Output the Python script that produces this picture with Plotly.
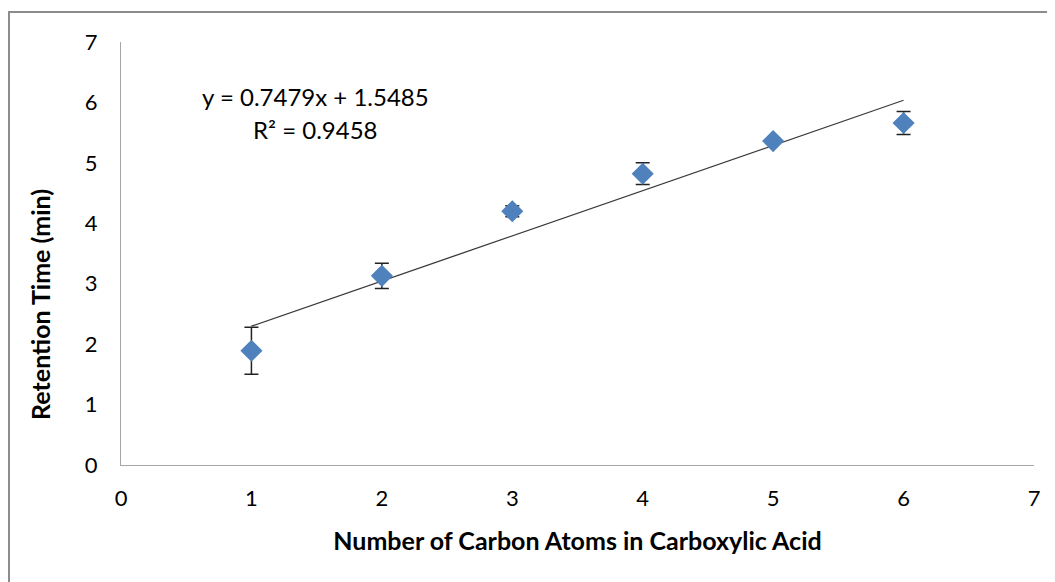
import plotly.graph_objects as go

carbon_atoms = [1, 2, 3, 4, 5, 6]
retention_time = [1.89, 3.13, 4.20, 4.82, 5.36, 5.66]
error_sd = [0.39, 0.21, 0.09, 0.18, 0.05, 0.19]
slope = 0.7479
intercept = 1.5485
trend_x = [1, 6]

x_ticks = [0, 1, 2, 3, 4, 5, 6, 7]
y_ticks = [0, 1, 2, 3, 4, 5, 6, 7]

font_family = "Lato, Open Sans, sans-serif"

fig = go.Figure()
fig.add_trace(go.Scatter(
    x=trend_x, y=[slope * v + intercept for v in trend_x],
    mode="lines", line=dict(color="#3a3a3a", width=1.3),
    showlegend=False, hoverinfo="skip"))
fig.add_trace(go.Scatter(
    x=carbon_atoms, y=retention_time, mode="markers",
    marker=dict(symbol="diamond", size=17, color="#4f81bd"),
    error_y=dict(type="data", array=error_sd, visible=True,
                 color="#222222", thickness=1.5, width=7),
    showlegend=False))

fig.update_layout(
    width=1047, height=574,
    margin=dict(l=113, r=21, t=34, b=117),
    paper_bgcolor="white", plot_bgcolor="white",
    font=dict(family=font_family, size=22, color="#000000"),
    xaxis=dict(range=[0, 7], tickvals=x_ticks, showgrid=False, zeroline=False,
               showline=True, linecolor="#a6a6a6", linewidth=1.3,
               ticks="", ticklabelstandoff=13,
               tickfont=dict(size=22), title=dict(
                   text="<b>Number of Carbon Atoms in Carboxylic Acid</b>",
                   font=dict(size=25), standoff=22)),
    yaxis=dict(range=[0, 7], tickvals=y_ticks, showgrid=False, zeroline=False,
               showline=True, linecolor="#a6a6a6", linewidth=1.3,
               ticks="", ticklabelstandoff=18,
               tickfont=dict(size=22)),
    shapes=[dict(type="rect", xref="paper", yref="paper",
                 x0=-0.1227, y0=-0.30, x1=1.03, y1=1.0709,
                 line=dict(color="#8c8c8c", width=2), fillcolor="rgba(0,0,0,0)",
                 layer="below")],
    annotations=[
        dict(x=-0.0887, y=2.65, xref="paper", yref="y", showarrow=False,
             text="<b>Retention Time (min)</b>", textangle=-90,
             xanchor="center", yanchor="middle", font=dict(size=25)),
        dict(x=1.49, y=6.09, xref="x", yref="y", showarrow=False,
             text="y = 0.7479x + 1.5485", font=dict(size=24)),
        dict(x=1.49, y=5.55, xref="x", yref="y", showarrow=False,
             text="R² = 0.9458", font=dict(size=24)),
    ],
)

fig.write_html("out.html")
